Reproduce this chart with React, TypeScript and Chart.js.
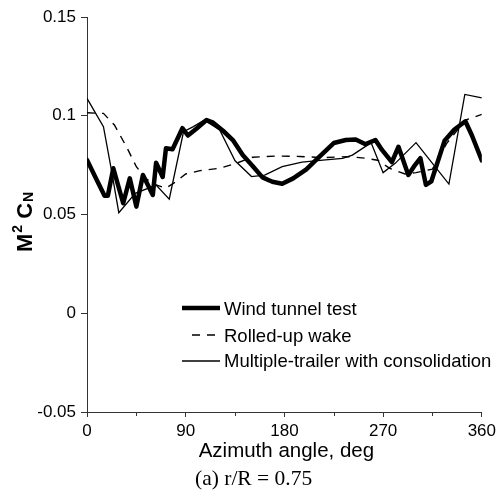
import React, { useEffect, useRef } from "react";
import { Chart, registerables } from "chart.js";

Chart.register(...registerables);

// ---- data (azimuth in deg, M^2 C_N) ----
const azWind = [0, 8, 16, 19, 24, 33, 39, 45, 51, 60, 63, 69, 72, 78, 87, 92, 100, 109, 115, 124, 133, 142, 151, 160, 169, 178, 188, 200, 212, 225, 236, 245, 254, 263, 269, 278, 284, 293, 298, 304, 309, 314, 326, 335, 345, 351, 360];
const cnWind = [0.0776, 0.0685, 0.0595, 0.0595, 0.0734, 0.0557, 0.0683, 0.054, 0.070, 0.0599, 0.0762, 0.069, 0.0835, 0.083, 0.0937, 0.090, 0.0936, 0.0978, 0.0965, 0.0924, 0.0877, 0.0801, 0.0746, 0.0688, 0.0666, 0.0656, 0.0683, 0.0728, 0.0793, 0.0862, 0.0877, 0.088, 0.0856, 0.0877, 0.0827, 0.0765, 0.0843, 0.070, 0.0742, 0.0785, 0.065, 0.0668, 0.0873, 0.093, 0.0972, 0.090, 0.0774];

const azRolled = [0, 15, 25, 36, 45, 54, 63, 72, 81, 90, 103, 121, 136, 151, 172, 194, 215, 238, 254, 265, 276, 290, 300, 315, 328, 345, 360];
const cnRolled = [0.1015, 0.1012, 0.0953, 0.0843, 0.0742, 0.068, 0.065, 0.0633, 0.0666, 0.0705, 0.0722, 0.0734, 0.0759, 0.079, 0.0796, 0.0794, 0.0788, 0.0793, 0.0785, 0.0775, 0.0734, 0.0705, 0.0712, 0.073, 0.086, 0.0978, 0.1007];

const azMulti = [0, 15, 22, 29, 44, 63, 75, 88, 97, 107, 121, 135, 150, 162, 178, 196, 215, 233, 242, 254, 259, 270, 281, 300, 315, 330, 344.5, 360];
const cnMulti = [0.1088, 0.0945, 0.0734, 0.0509, 0.0607, 0.0649, 0.0578, 0.0919, 0.0945, 0.0978, 0.0928, 0.0772, 0.0692, 0.0699, 0.0742, 0.0765, 0.0775, 0.0784, 0.0801, 0.0845, 0.0864, 0.0712, 0.0759, 0.0864, 0.0759, 0.0654, 0.1108, 0.109];

const seriesLabels = ["Wind tunnel test", "Rolled-up wake", "Multiple-trailer with consolidation"];
const xTicks = [0, 90, 180, 270, 360];
const xMinorTicks = [45, 135, 225, 315];
const yTicks = [-0.05, 0, 0.05, 0.1, 0.15];
const xTitle = "Azimuth angle, deg";
const caption = "(a) r/R = 0.75";

const SANS = "'Liberation Sans', Arial, sans-serif";
const SERIF = "'Liberation Serif', 'Times New Roman', serif";
const AXIS = "#333";
const INK = "#000";

export default function App() {
  const ref = useRef<HTMLCanvasElement>(null);

  useEffect(() => {
    const canvas = ref.current;
    if (!canvas) return;
    const pair = (xs: number[], ys: number[]) => xs.map((x, i) => ({ x, y: ys[i] }));

    const overlay = {
      id: "overlay",
      afterDraw(chart: any) {
        const c = chart.ctx as CanvasRenderingContext2D;
        const xs = chart.scales.x;
        const area = chart.chartArea;
        c.save();
        // minor x ticks
        c.strokeStyle = AXIS;
        c.lineWidth = 1;
        for (const v of xMinorTicks) {
          const px = Math.round(xs.getPixelForValue(v)) + 0.5;
          c.beginPath();
          c.moveTo(px, area.bottom);
          c.lineTo(px, area.bottom + 4);
          c.stroke();
        }
        // legend
        const ds = chart.data.datasets;
        const legendY = [308, 335, 361];
        const baseY = [315, 342, 367];
        c.fillStyle = INK;
        c.font = `18.5px ${SANS}`;
        c.textAlign = "left";
        c.textBaseline = "alphabetic";
        for (let i = 0; i < ds.length; i++) {
          const d = ds[i];
          c.strokeStyle = d.borderColor;
          c.lineWidth = d.borderWidth;
          c.setLineDash(d.borderDash || []);
          c.beginPath();
          if (d.borderDash) {
            c.moveTo(192, legendY[i]);
            c.lineTo(219, legendY[i]);
          } else {
            c.moveTo(182, legendY[i]);
            c.lineTo(220, legendY[i]);
          }
          c.stroke();
          c.setLineDash([]);
          c.fillText(d.label, 224, baseY[i]);
        }
        // x title
        c.font = `20.5px ${SANS}`;
        c.textAlign = "center";
        c.fillText(xTitle, (area.left + area.right) / 2 + 2, 457);
        // caption
        c.font = `21.5px ${SERIF}`;
        c.textAlign = "left";
        c.fillText(caption, 195, 485);
        // y title: M^2 C_N
        c.translate(32, 252);
        c.rotate(-Math.PI / 2);
        c.textAlign = "left";
        let x = 0;
        c.font = `bold 22px ${SANS}`;
        c.fillText("M", x, 0);
        x += c.measureText("M").width + 1;
        c.font = `bold 14px ${SANS}`;
        c.fillText("2", x, -10);
        x += c.measureText("2").width;
        c.font = `bold 22px ${SANS}`;
        x += c.measureText(" ").width;
        c.fillText("C", x, 0);
        x += c.measureText("C").width + 1;
        c.font = `bold 14px ${SANS}`;
        c.fillText("N", x, 1);
        c.restore();
      },
    };

    const chart = new Chart(canvas, {
      type: "line",
      data: {
        datasets: [
          {
            label: seriesLabels[0],
            data: pair(azWind, cnWind),
            borderColor: INK,
            borderWidth: 4.5,
            pointRadius: 0,
            tension: 0,
            borderJoinStyle: "round",
            borderCapStyle: "round",
          },
          {
            label: seriesLabels[1],
            data: pair(azRolled, cnRolled),
            borderColor: INK,
            borderWidth: 1.4,
            borderDash: [8, 7],
            pointRadius: 0,
            tension: 0,
          },
          {
            label: seriesLabels[2],
            data: pair(azMulti, cnMulti),
            borderColor: INK,
            borderWidth: 1.3,
            pointRadius: 0,
            tension: 0,
          },
        ],
      },
      options: {
        animation: false,
        responsive: false,
        devicePixelRatio: 1,
        layout: { padding: { left: 0, top: 17, right: 17, bottom: 0 } },
        plugins: { legend: { display: false }, tooltip: { enabled: false }, title: { display: false } },
        scales: {
          x: {
            type: "linear",
            min: 0,
            max: 360,
            afterBuildTicks: (s: any) => {
              s.ticks = xTicks.map((v) => ({ value: v }));
            },
            afterFit: (s: any) => {
              s.height = 85;
            },
            ticks: {
              callback: (v: any) => String(v),
              color: INK,
              font: { family: SANS, size: 17 },
              padding: 4,
              maxRotation: 0,
              autoSkip: false,
            },
            grid: { drawOnChartArea: false, drawTicks: true, tickLength: 5, color: AXIS, lineWidth: 1 },
            border: { display: true, color: AXIS, width: 1 },
          },
          y: {
            type: "linear",
            min: -0.05,
            max: 0.15,
            afterBuildTicks: (s: any) => {
              s.ticks = yTicks.map((v) => ({ value: v }));
            },
            afterFit: (s: any) => {
              s.width = 87;
            },
            ticks: {
              callback: (v: any) => String(v),
              color: INK,
              font: { family: SANS, size: 17 },
              padding: 5,
              autoSkip: false,
            },
            grid: { drawOnChartArea: false, drawTicks: true, tickLength: 6, color: AXIS, lineWidth: 1 },
            border: { display: true, color: AXIS, width: 1 },
          },
        },
      } as any,
      plugins: [overlay],
    });
    return () => chart.destroy();
  }, []);

  return (
    <div style={{ position: "absolute", left: 0, top: 0, width: 500, height: 497, background: "#fff" }}>
      <canvas ref={ref} width={500} height={497} style={{ display: "block" }} />
    </div>
  );
}
